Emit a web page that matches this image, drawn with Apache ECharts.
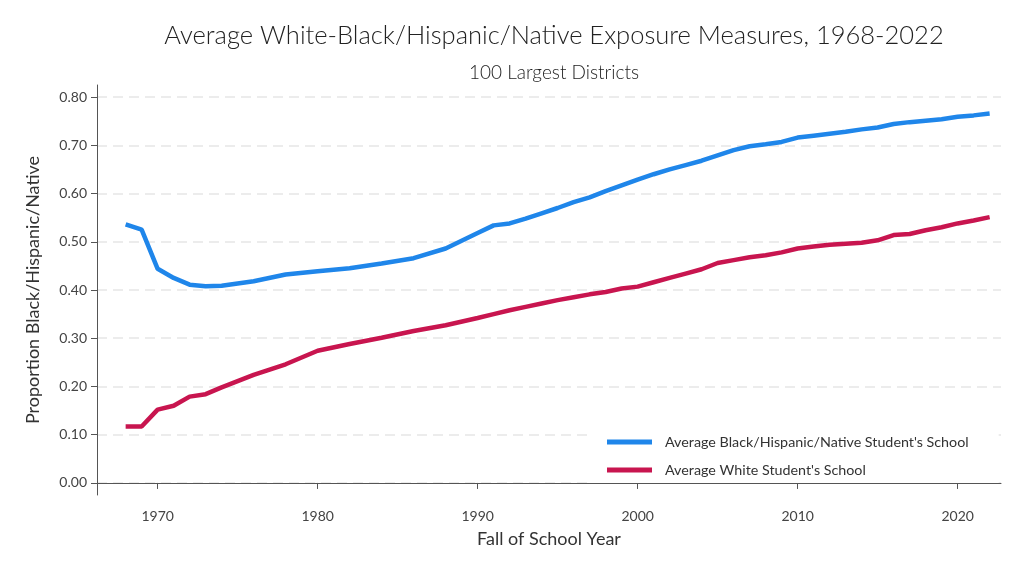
<!DOCTYPE html>
<html>
<head>
<meta charset="utf-8">
<script src="https://cdn.jsdelivr.net/npm/echarts@6/dist/echarts.min.js"></script>
<style>html,body{margin:0;padding:0;background:#fff}#c{width:1024px;height:576px}</style>
</head>
<body>
<div id="c"></div>
<script>
const years = [1968,1969,1970,1971,1972,1973,1974,1976,1978,1980,1982,1984,1986,1988,1990,1991,1992,1993,1994,1995,1996,1997,1998,1999,2000,2001,2002,2003,2004,2005,2006,2007,2008,2009,2010,2011,2012,2013,2014,2015,2016,2017,2018,2019,2020,2021,2022];
const blackHispNative = [0.536,0.525,0.444,0.425,0.411,0.408,0.409,0.418,0.432,0.439,0.445,0.455,0.466,0.486,0.518,0.534,0.538,0.548,0.559,0.570,0.582,0.592,0.605,0.617,0.629,0.640,0.650,0.659,0.668,0.679,0.690,0.698,0.702,0.707,0.716,0.720,0.724,0.728,0.733,0.737,0.744,0.748,0.751,0.754,0.759,0.762,0.766];
const white = [0.117,0.117,0.152,0.160,0.179,0.184,0.198,0.224,0.246,0.274,0.288,0.301,0.315,0.327,0.342,0.350,0.358,0.365,0.372,0.379,0.385,0.391,0.396,0.403,0.407,0.416,0.425,0.434,0.443,0.456,0.462,0.468,0.472,0.478,0.486,0.490,0.494,0.496,0.498,0.503,0.514,0.516,0.524,0.530,0.538,0.544,0.551];
const xTicks = [1970,1980,1990,2000,2010,2020];
const yTicks = [0,0.1,0.2,0.3,0.4,0.5,0.6,0.7,0.8];
const seriesNames = ["Average Black/Hispanic/Native Student's School","Average White Student's School"];

const FONT = 'Lato';
const chart = echarts.init(document.getElementById('c'));
chart.setOption({
  animation: false,
  backgroundColor: '#fff',
  textStyle: {fontFamily: FONT},
  title: [
    {text: 'Average White-Black/Hispanic/Native Exposure Measures, 1968-2022', left: 549, top: 18, textAlign: 'center',
     textStyle: {fontFamily: FONT, fontSize: 25.5, fontWeight: 300, color: '#222'}},
    {text: '100 Largest Districts', left: 549, top: 58, textAlign: 'center',
     textStyle: {fontFamily: FONT, fontSize: 19, fontWeight: 300, color: '#222'}}
  ],
  grid: {left: 97, right: 23, top: 85, bottom: 81, containLabel: false},
  legend: {
    orient: 'vertical', left: 592, top: 425, padding: [10, 30, 6, 15],
    backgroundColor: '#fff', itemWidth: 45, itemHeight: 5, itemGap: 14,
    icon: 'rect',
    textStyle: {fontFamily: FONT, fontSize: 14.3, color: '#333', padding: [0,0,0,8]},
    data: seriesNames
  },
  xAxis: {
    type: 'value', min: 1966.21, max: 2022.71,
    name: 'Fall of School Year', nameLocation: 'middle', nameGap: 35,
    nameTextStyle: {fontFamily: FONT, fontSize: 18, color: '#333'},
    axisLine: {show: true, lineStyle: {color: '#555', width: 1}},
    axisTick: {show: true, length: 6, customValues: xTicks, lineStyle: {color: '#555'}},
    axisLabel: {customValues: xTicks, margin: 14, fontSize: 14, color: '#444', fontFamily: FONT, formatter: v => String(v)},
    splitLine: {show: false}
  },
  yAxis: {
    type: 'value', min: -0.025, max: 0.825,
    name: 'Proportion Black/Hispanic/Native', nameLocation: 'middle', nameGap: 55,
    nameTextStyle: {fontFamily: FONT, fontSize: 18, color: '#333'},
    axisLine: {show: true, lineStyle: {color: '#555', width: 1}},
    axisTick: {show: true, length: 6, customValues: yTicks, lineStyle: {color: '#555'}},
    axisLabel: {customValues: yTicks, margin: 10, fontSize: 14, color: '#444', fontFamily: FONT, formatter: v => v.toFixed(2)},
    splitLine: {show: true, lineStyle: {color: '#e6e6e6', width: 1.5, type: [10, 6]}}
  },
  series: [
    {name: seriesNames[0], type: 'line', showSymbol: false, symbol: 'none',
     data: years.map((y, i) => [y, blackHispNative[i]]),
     lineStyle: {color: '#1F86EA', width: 4.5}, itemStyle: {color: '#1F86EA'}},
    {name: seriesNames[1], type: 'line', showSymbol: false, symbol: 'none',
     data: years.map((y, i) => [y, white[i]]),
     lineStyle: {color: '#C8154F', width: 4.5}, itemStyle: {color: '#C8154F'}}
  ]
});
</script>
</body>
</html>
